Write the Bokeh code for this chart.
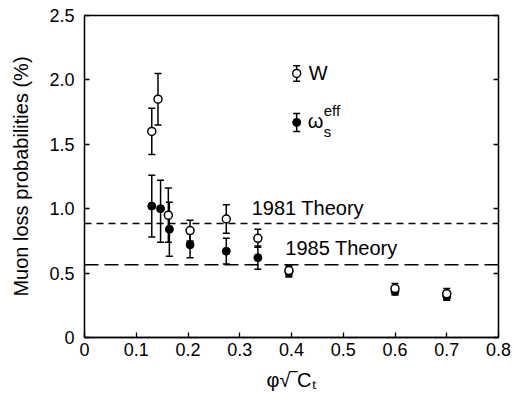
from bokeh.plotting import figure
from bokeh.models import (ColumnDataSource, Whisker, TeeHead, Span, LinearAxis,
                          Range1d, FixedTicker, CustomJSTickFormatter)
from bokeh.core.properties import value
from bokeh.embed import file_html
from bokeh.resources import INLINE

# ---- data ----
x_w = [0.13, 0.142, 0.162, 0.204, 0.274, 0.335, 0.395, 0.60, 0.70]
w_val = [1.60, 1.85, 0.95, 0.83, 0.92, 0.77, 0.52, 0.38, 0.34]
w_lo = [1.42, 1.65, 0.74, 0.75, 0.81, 0.70, 0.48, 0.34, 0.30]
w_hi = [1.78, 2.05, 1.16, 0.91, 1.03, 0.84, 0.56, 0.42, 0.38]

x_s = [0.13, 0.147, 0.164, 0.204, 0.274, 0.335, 0.395, 0.60, 0.70]
s_val = [1.02, 1.00, 0.84, 0.72, 0.67, 0.62, 0.51, 0.36, 0.32]
s_lo = [0.78, 0.74, 0.63, 0.62, 0.57, 0.53, 0.47, 0.33, 0.29]
s_hi = [1.26, 1.22, 1.05, 0.82, 0.77, 0.71, 0.55, 0.40, 0.36]

theory_1981 = 0.885
theory_1985 = 0.565
theory_labels = ["1981 Theory", "1985 Theory"]
theory_label_x = [0.323, 0.388]
theory_label_y = [1.005, 0.695]

legend_x = [0.41, 0.41]
legend_y = [2.05, 1.67]
legend_lo = [1.99, 1.60]
legend_hi = [2.11, 1.74]

x_ticks = [0, 0.1, 0.2, 0.3, 0.4, 0.5, 0.6, 0.7, 0.8]
y_ticks = [0, 0.5, 1.0, 1.5, 2.0, 2.5]

FONT = "Liberation Sans"
TICK_FS = "18px"
TEXT_FS = "20px"

p = figure(frame_width=414, frame_height=322, output_backend="svg", toolbar_location=None,
           x_range=Range1d(0, 0.8), y_range=Range1d(0, 2.5),
           min_border_left=84, min_border_right=14, min_border_top=15, min_border_bottom=62)
p.grid.visible = False
p.outline_line_color = "black"
p.outline_line_width = 1.3

for ax in (p.xaxis[0], p.yaxis[0]):
    ax.major_tick_in = 5
    ax.major_tick_out = 0
    ax.minor_tick_line_color = None
    ax.axis_line_width = 1.3
    ax.major_tick_line_width = 1.3
    ax.major_label_text_font = FONT
    ax.major_label_text_font_size = TICK_FS
    ax.major_label_text_color = "black"
    ax.axis_label_text_font = FONT
    ax.axis_label_text_font_size = TEXT_FS
    ax.axis_label_text_font_style = "normal"
    ax.axis_label_text_color = "black"

p.xaxis.ticker = FixedTicker(ticks=x_ticks)
p.yaxis.ticker = FixedTicker(ticks=y_ticks)
p.xaxis.major_label_overrides = {0: "0", 0.8: "0.8"}
p.yaxis.major_label_overrides = {0: "0", 1: "1.0", 2: "2.0"}
p.xaxis.axis_label = "φ√‾Cₜ"
p.yaxis.axis_label = "Muon loss probabilities (%)"
p.xaxis.major_label_standoff = 5
p.yaxis.major_label_standoff = 10
p.xaxis.axis_label_standoff = 10
p.yaxis.axis_label_standoff = 14

right = LinearAxis(ticker=FixedTicker(ticks=y_ticks),
                   formatter=CustomJSTickFormatter(code="return ''"))
right.major_tick_in = 5
right.major_tick_out = 0
right.minor_tick_line_color = None
right.major_label_text_font_size = "0px"
right.major_label_standoff = 0
right.major_tick_line_width = 1.3
right.axis_line_width = 1.3
p.add_layout(right, "right")

# theory lines
p.add_layout(Span(location=theory_1981, dimension="width", line_color="black",
                  line_width=1.4, line_dash="7 5"))
p.add_layout(Span(location=theory_1985, dimension="width", line_color="black",
                  line_width=1.4, line_dash="14 6"))
p.text(x=theory_label_x, y=theory_label_y, text=theory_labels,
       text_font=value(FONT), text_font_size=TEXT_FS, text_color="black",
       text_baseline="alphabetic", text_align="left")

# error bars
def whisk(xs, lo, hi):
    src = ColumnDataSource(dict(x=xs, lo=lo, hi=hi))
    w = Whisker(source=src, base="x", lower="lo", upper="hi", dimension="height",
                line_color="black", line_width=1.5,
                upper_head=TeeHead(size=7, line_width=1.5, line_color="black"),
                lower_head=TeeHead(size=7, line_width=1.5, line_color="black"))
    p.add_layout(w)

whisk(x_w, w_lo, w_hi)
whisk(x_s, s_lo, s_hi)
whisk(legend_x, legend_lo, legend_hi)

p.scatter(x_s, s_val, size=8, marker="circle", fill_color="black", line_color="black")
p.scatter(x_w, w_val, size=8, marker="circle", fill_color="white", line_color="black",
          line_width=1.5)

# legend
p.scatter([legend_x[0]], [legend_y[0]], size=8, marker="circle", fill_color="white",
          line_color="black", line_width=1.5)
p.scatter([legend_x[1]], [legend_y[1]], size=8, marker="circle", fill_color="black",
          line_color="black")
p.text(x=[legend_x[0]], y=[legend_y[0]], text=["W"], x_offset=12,
       text_font=value(FONT), text_font_size=TEXT_FS, text_baseline="middle", text_color="black")
p.text(x=[legend_x[1]], y=[legend_y[1]], text=["ω"], x_offset=11, y_offset=-1,
       text_font=value(FONT), text_font_size=TEXT_FS, text_baseline="middle", text_color="black")
p.text(x=[legend_x[1]], y=[legend_y[1]], text=["eff"], x_offset=27, y_offset=-12,
       text_font=value(FONT), text_font_size="15px", text_baseline="middle", text_color="black")
p.text(x=[legend_x[1]], y=[legend_y[1]], text=["s"], x_offset=27, y_offset=9,
       text_font=value(FONT), text_font_size="15px", text_baseline="middle", text_color="black")

open("out.html", "w").write(file_html(p, INLINE))
